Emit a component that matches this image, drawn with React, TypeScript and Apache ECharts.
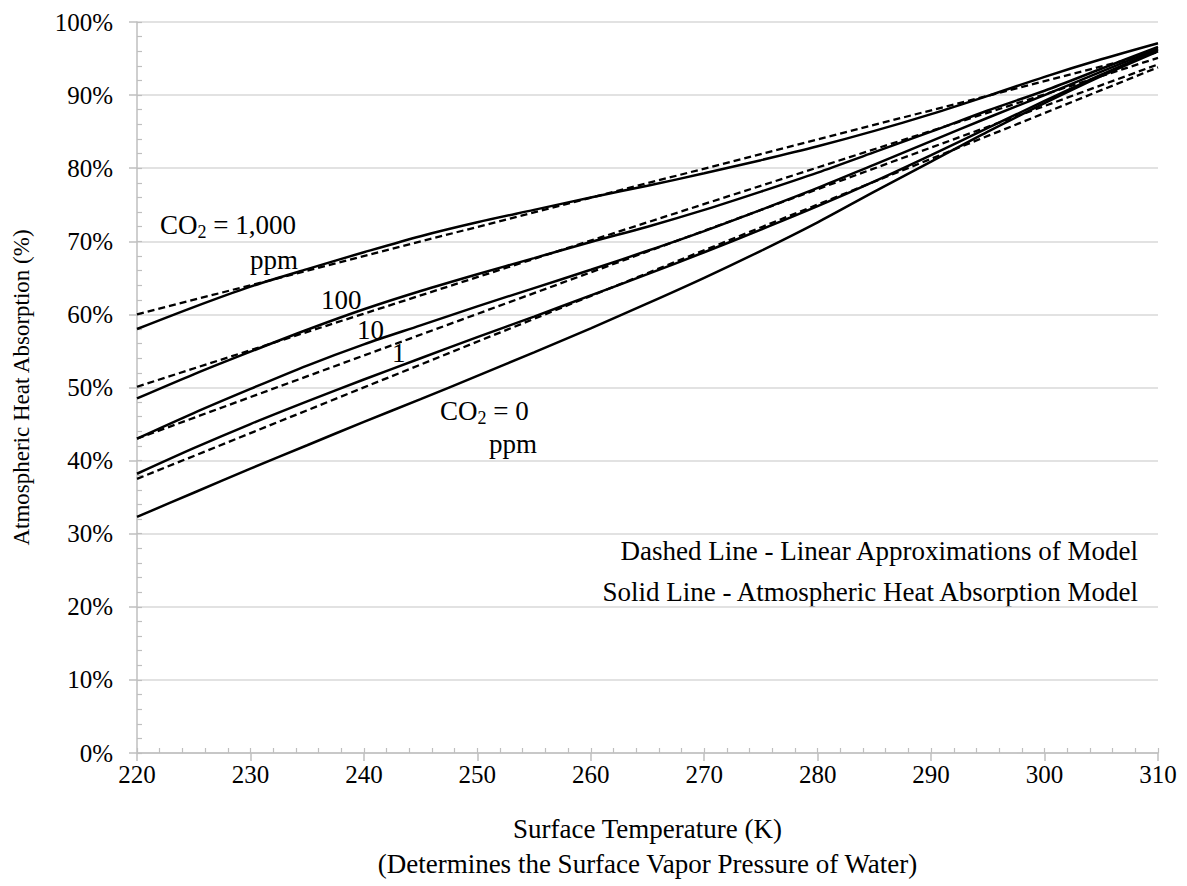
import React, { useEffect, useRef } from "react";
import * as echarts from "echarts";

const FONT = "'Liberation Serif', 'DejaVu Serif', serif";

// Surface temperature (K) sample points for the model curves
const temperatures = [220, 225, 230, 235, 240, 245, 250, 255, 260, 265, 270, 275, 280, 285, 290, 295, 300, 305, 310];

// Solid lines - Atmospheric Heat Absorption Model (%)
const solid1000 = [58.0, 61.0, 63.8, 66.2, 68.5, 70.7, 72.6, 74.3, 76.0, 77.6, 79.3, 81.1, 83.0, 85.1, 87.4, 89.9, 92.5, 94.9, 97.1];
const solid100 = [48.5, 51.8, 54.9, 57.9, 60.7, 63.2, 65.5, 67.7, 69.9, 72.0, 74.3, 76.8, 79.4, 82.2, 85.0, 87.9, 90.6, 93.6, 96.6];
const solid10 = [43.0, 46.5, 49.8, 53.0, 55.9, 58.5, 61.1, 63.6, 66.1, 68.7, 71.4, 74.3, 77.3, 80.5, 83.7, 86.9, 90.0, 93.2, 96.4];
const solid1 = [38.2, 41.7, 45.0, 48.1, 51.1, 54.0, 56.9, 59.7, 62.6, 65.5, 68.5, 71.6, 74.8, 78.2, 81.8, 85.5, 89.2, 92.8, 96.2];
const solid0 = [32.3, 35.6, 38.9, 42.1, 45.3, 48.4, 51.6, 54.8, 58.1, 61.5, 65.0, 68.7, 72.6, 76.8, 80.9, 85.0, 88.9, 92.6, 96.0];

// Dashed lines - Linear approximations (end points)
const dashedX = [220, 310];
const dashed1000 = [60.0, 95.9];
const dashed100 = [50.1, 95.1];
const dashed10 = [43.0, 94.2];
const dashed1 = [37.5, 93.8];

const xTitle = "Surface Temperature (K)\n(Determines the Surface Vapor Pressure of Water)";
const yTitle = "Atmospheric Heat Absorption (%)";
const legendDashed = "Dashed Line - Linear Approximations of Model";
const legendSolid = "Solid Line - Atmospheric Heat Absorption Model";

const AXIS_GRAY = "#bfbfbf";
const GRID_GRAY = "#d9d9d9";

function solidSeries(name: string, vals: number[]) {
  return {
    name,
    type: "line",
    data: temperatures.map((t, i) => [t, vals[i]]),
    smooth: 0.3,
    symbol: "none",
    lineStyle: { color: "#000", width: 2.5, type: "solid" },
    z: 3,
  };
}

function dashedSeries(name: string, vals: number[]) {
  return {
    name,
    type: "line",
    data: dashedX.map((t, i) => [t, vals[i]]),
    symbol: "none",
    lineStyle: { color: "#000", width: 2.3, type: [7, 4] },
    z: 4,
  };
}

export default function App() {
  const ref = useRef<HTMLDivElement>(null);

  useEffect(() => {
    if (!ref.current) return;
    const chart = echarts.init(ref.current, undefined, { renderer: "svg" });
    const textBase = { fontFamily: FONT, fontSize: 27, fill: "#000" };
    const coRich = {
      n: { ...textBase },
      s: { fontFamily: FONT, fontSize: 18, fill: "#000", padding: [13, 0, 0, 0] },
    };
    const option = {
      animation: false,
      backgroundColor: "#ffffff",
      grid: { left: 137, right: 29, top: 22, bottom: 129 },
      xAxis: [
        {
          type: "value",
          min: 220,
          max: 310,
          interval: 10,
          position: "bottom",
          axisLine: { show: true, onZero: false, lineStyle: { color: AXIS_GRAY, width: 1.5 } },
          axisTick: { show: true, inside: false, length: 8, lineStyle: { color: AXIS_GRAY, width: 1.5 } },
          axisLabel: { margin: 9, fontSize: 25, fontFamily: FONT, color: "#000" },
          splitLine: { show: false },
          name: xTitle,
          nameLocation: "middle",
          nameGap: 58,
          nameTextStyle: { fontSize: 27, fontFamily: FONT, color: "#000", lineHeight: 35 },
        },
        {
          type: "value",
          min: 220,
          max: 310,
          interval: 2,
          position: "bottom",
          axisLine: { show: false, onZero: false },
          axisTick: { show: true, inside: true, length: 5, lineStyle: { color: AXIS_GRAY, width: 1.2 } },
          axisLabel: { show: false },
          splitLine: { show: false },
        },
      ],
      yAxis: [
        {
          type: "value",
          min: 0,
          max: 100,
          interval: 10,
          position: "left",
          axisLine: { show: true, onZero: false, lineStyle: { color: AXIS_GRAY, width: 1.5 } },
          axisTick: { show: true, inside: false, length: 8, lineStyle: { color: AXIS_GRAY, width: 1.5 } },
          axisLabel: { margin: 24, fontSize: 25, fontFamily: FONT, color: "#000", formatter: "{value}%" },
          splitLine: { show: true, lineStyle: { color: GRID_GRAY, width: 1.5 } },
          name: yTitle,
          nameLocation: "middle",
          nameGap: 104,
          nameRotate: 90,
          nameTextStyle: { fontSize: 23, fontFamily: FONT, color: "#000" },
        },
        {
          type: "value",
          min: 0,
          max: 100,
          interval: 2,
          position: "left",
          axisLine: { show: false, onZero: false },
          axisTick: { show: true, inside: true, length: 5, lineStyle: { color: AXIS_GRAY, width: 1.2 } },
          axisLabel: { show: false },
          splitLine: { show: false },
        },
      ],
      series: [
        solidSeries("CO2 = 1,000 ppm", solid1000),
        solidSeries("CO2 = 100 ppm", solid100),
        solidSeries("CO2 = 10 ppm", solid10),
        solidSeries("CO2 = 1 ppm", solid1),
        solidSeries("CO2 = 0 ppm", solid0),
        dashedSeries("Linear 1,000 ppm", dashed1000),
        dashedSeries("Linear 100 ppm", dashed100),
        dashedSeries("Linear 10 ppm", dashed10),
        dashedSeries("Linear 1 ppm", dashed1),
      ],
      graphic: [
        {
          type: "text",
          x: 160,
          y: 225,
          style: { text: "{n|CO}{s|2}{n| = 1,000}", textVerticalAlign: "middle", textAlign: "left", rich: coRich },
        },
        { type: "text", x: 250, y: 260, style: { ...textBase, text: "ppm", textVerticalAlign: "middle" } },
        { type: "text", x: 321, y: 300, style: { ...textBase, text: "100", textVerticalAlign: "middle" } },
        { type: "text", x: 357, y: 330, style: { ...textBase, text: "10", textVerticalAlign: "middle" } },
        { type: "text", x: 392, y: 353, style: { ...textBase, text: "1", textVerticalAlign: "middle" } },
        {
          type: "text",
          x: 440,
          y: 411,
          style: { text: "{n|CO}{s|2}{n| = 0}", textVerticalAlign: "middle", textAlign: "left", rich: coRich },
        },
        { type: "text", x: 489, y: 444, style: { ...textBase, text: "ppm", textVerticalAlign: "middle" } },
        { type: "text", x: 1138, y: 551, style: { ...textBase, text: legendDashed, textAlign: "right", textVerticalAlign: "middle" } },
        { type: "text", x: 1138, y: 592, style: { ...textBase, text: legendSolid, textAlign: "right", textVerticalAlign: "middle" } },
      ],
    };
    chart.setOption(option as any);
    return () => chart.dispose();
  }, []);

  return (
    <div
      ref={ref}
      style={{ position: "fixed", left: 0, top: 0, width: 1187, height: 886, background: "#fff" }}
    />
  );
}
